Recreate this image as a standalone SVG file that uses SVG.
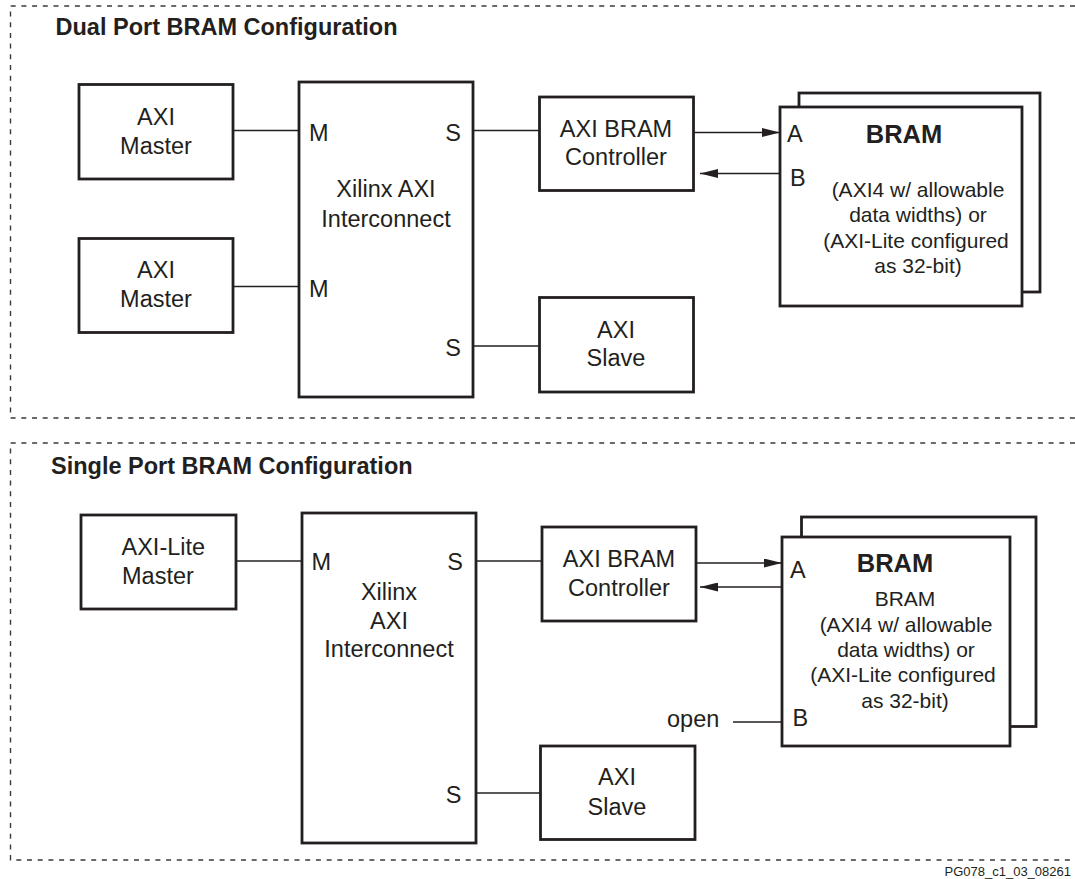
<svg xmlns="http://www.w3.org/2000/svg" width="1075" height="879" viewBox="0 0 1075 879">
<defs>
<style>
.box{fill:#fff;stroke:#231f20;stroke-width:2.8}
.ln{fill:none;stroke:#231f20;stroke-width:1.6}
.dash{fill:none;stroke:#3a3a3a;stroke-width:1.4;stroke-dasharray:5 5.7}
text{font-family:"Liberation Sans",Arial,Helvetica,sans-serif;fill:#231f20}
.t{font-size:23.5px}
.c{text-anchor:middle}
.e{text-anchor:end}
.d{font-size:21px;text-anchor:middle}
.h{font-size:23.5px;font-weight:bold}
.b{font-size:25.5px;font-weight:bold;text-anchor:middle}
.f{font-size:13px;text-anchor:end}
</style>
<marker id="arr" viewBox="0 0 18 9" refX="18" refY="4.5" markerWidth="18" markerHeight="9" markerUnits="userSpaceOnUse" orient="auto">
<path d="M0,0 L18,4.5 L0,9 Z" fill="#231f20"/>
</marker>
</defs>
<rect width="1075" height="879" fill="#fff"/>

<g id="panel-dual">
<path class="dash" d="M1075,6 H10.5 V418 H1075"/>
<text class="h" x="55.5" y="35">Dual Port BRAM Configuration</text>
</g>
<g id="panel-single">
<path class="dash" d="M1075,443 H10.5 V860 H1075"/>
<text class="h" x="51" y="474">Single Port BRAM Configuration</text>
</g>

<g id="connectors">
<line class="ln" x1="233" y1="130.5" x2="299" y2="130.5"/>
<line class="ln" x1="233" y1="286.5" x2="299" y2="286.5"/>
<line class="ln" x1="473" y1="130.5" x2="539.5" y2="130.5"/>
<line class="ln" x1="473" y1="346" x2="539.5" y2="346"/>
<line class="ln" x1="693.5" y1="132.5" x2="780" y2="132.5" marker-end="url(#arr)"/>
<line class="ln" x1="780" y1="173.5" x2="700" y2="173.5" marker-end="url(#arr)"/>

<line class="ln" x1="236" y1="561" x2="302" y2="561"/>
<line class="ln" x1="476" y1="561" x2="542" y2="561"/>
<line class="ln" x1="476" y1="793" x2="540.5" y2="793"/>
<line class="ln" x1="696" y1="563" x2="782" y2="563" marker-end="url(#arr)"/>
<line class="ln" x1="782" y1="587" x2="700" y2="587" marker-end="url(#arr)"/>
<line class="ln" x1="733" y1="722" x2="782" y2="722"/>
</g>

<g id="dual-master1">
<rect class="box" x="79" y="84.5" width="154" height="94.5"/>
<text class="t c" x="156" y="125">AXI</text>
<text class="t c" x="156" y="154">Master</text>
</g>
<g id="dual-master2">
<rect class="box" x="79" y="238.5" width="154" height="94"/>
<text class="t c" x="156" y="278">AXI</text>
<text class="t c" x="156" y="306.5">Master</text>
</g>
<g id="dual-interconnect">
<rect class="box" x="299" y="82" width="174" height="315"/>
<text class="t" x="309" y="140.5">M</text>
<text class="t" x="309" y="296.5">M</text>
<text class="t e" x="461" y="140.5">S</text>
<text class="t e" x="461" y="355.5">S</text>
<text class="t c" x="386" y="197">Xilinx AXI</text>
<text class="t c" x="386" y="227">Interconnect</text>
</g>
<g id="dual-controller">
<rect class="box" x="539.5" y="97" width="154" height="93.5"/>
<text class="t c" x="616" y="137">AXI BRAM</text>
<text class="t c" x="616" y="165">Controller</text>
</g>
<g id="dual-slave">
<rect class="box" x="539.5" y="297.5" width="154" height="94.5"/>
<text class="t c" x="616" y="338">AXI</text>
<text class="t c" x="616" y="366">Slave</text>
</g>
<g id="dual-bram">
<rect class="box" x="799" y="93" width="241" height="199"/>
<rect class="box" x="780" y="107" width="242" height="199"/>
<text class="t" x="787" y="142">A</text>
<text class="t" x="790" y="186">B</text>
<text class="b" x="904" y="143">BRAM</text>
<text class="d" x="918" y="197">(AXI4 w/ allowable</text>
<text class="d" x="918" y="222">data widths) or</text>
<text class="d" x="916" y="248">(AXI-Lite configured</text>
<text class="d" x="918" y="273">as 32-bit)</text>
</g>

<g id="single-master">
<rect class="box" x="81" y="515" width="155" height="94"/>
<text class="t" x="121.5" y="555">AXI-Lite</text>
<text class="t" x="122" y="584">Master</text>
</g>
<g id="single-interconnect">
<rect class="box" x="302" y="513" width="174" height="330"/>
<text class="t" x="311.5" y="570">M</text>
<text class="t e" x="463" y="570">S</text>
<text class="t e" x="461.5" y="803">S</text>
<text class="t c" x="389" y="600">Xilinx</text>
<text class="t c" x="389" y="629">AXI</text>
<text class="t c" x="389" y="657">Interconnect</text>
</g>
<g id="single-controller">
<rect class="box" x="542" y="527" width="154" height="94"/>
<text class="t c" x="619" y="567">AXI BRAM</text>
<text class="t c" x="619" y="596">Controller</text>
</g>
<g id="single-slave">
<rect class="box" x="540.5" y="746" width="154.5" height="93.5"/>
<text class="t c" x="617" y="785">AXI</text>
<text class="t c" x="617" y="815">Slave</text>
</g>
<g id="single-bram">
<rect class="box" x="801.5" y="517" width="234.5" height="209.5"/>
<rect class="box" x="782" y="537" width="228" height="209"/>
<text class="t" x="790" y="578">A</text>
<text class="t" x="792.5" y="726">B</text>
<text class="b" x="895" y="572">BRAM</text>
<text class="d" x="905" y="606">BRAM</text>
<text class="d" x="906" y="632">(AXI4 w/ allowable</text>
<text class="d" x="906" y="657">data widths) or</text>
<text class="d" x="903" y="682">(AXI-Lite configured</text>
<text class="d" x="905" y="708">as 32-bit)</text>
</g>
<g id="open-label">
<text class="t" x="667" y="726.5">open</text>
</g>
<text class="f" x="1071" y="876">PG078_c1_03_08261</text>
</svg>
